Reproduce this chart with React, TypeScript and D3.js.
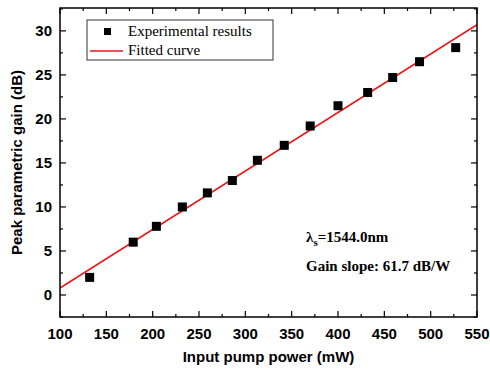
import React from 'react';
import * as d3 from 'd3';

// measured pump power (mW) and peak gain (dB)
const pumpPower = [132, 179, 204, 232, 259, 286, 313, 342, 370, 400, 432, 459, 488, 527];
const peakGain = [2.0, 6.0, 7.8, 10.0, 11.6, 13.0, 15.3, 17.0, 19.2, 21.5, 23.0, 24.7, 26.5, 28.1];
// linear fit end points
const fitX = [100, 550];
const fitY = [0.8, 30.7];

const xTicks = [100, 150, 200, 250, 300, 350, 400, 450, 500, 550];
const yTicks = [0, 5, 10, 15, 20, 25, 30];

const width = 490;
const height = 372;
const margin = { top: 8, right: 13, bottom: 55, left: 60 };

export default function App() {
  const innerW = width - margin.left - margin.right;
  const innerH = height - margin.top - margin.bottom;

  const x = d3.scaleLinear().domain([100, 550]).range([0, innerW]);
  const y = d3.scaleLinear().domain([-2.5, 32.6]).range([innerH, 0]);

  const line = d3.line<number>()
    .x(d => x(fitX[d]))
    .y(d => y(fitY[d]));

  const xMinor = d3.range(125, 550, 50);
  const yMinor = d3.range(-2.5, 32.6, 5);

  const sans = 'Liberation Sans, Arial, sans-serif';
  const serif = 'Liberation Serif, Times New Roman, serif';

  return (
    <svg width={width} height={height} style={{ position: 'absolute', left: 0, top: 0, background: '#fff' }}>
      <g transform={`translate(${margin.left},${margin.top})`}>
        {/* fitted line, clipped to frame */}
        <clipPath id="plot"><rect width={innerW} height={innerH} /></clipPath>
        <path d={line([0, 1]) || ''} stroke="#e8191c" strokeWidth={1.6} fill="none" clipPath="url(#plot)" />

        {pumpPower.map((p, i) => (
          <rect key={i} x={x(p) - 4.5} y={y(peakGain[i]) - 4.5} width={9} height={9} fill="#000" />
        ))}

        {/* frame */}
        <rect width={innerW} height={innerH} fill="none" stroke="#000" strokeWidth={1.5} />

        {/* x ticks bottom & top */}
        {xTicks.map(t => (
          <g key={'x' + t}>
            <line x1={x(t)} x2={x(t)} y1={innerH} y2={innerH - 6} stroke="#000" strokeWidth={1.2} />
            <line x1={x(t)} x2={x(t)} y1={0} y2={6} stroke="#000" strokeWidth={1.2} />
            <text x={x(t)} y={innerH + 22} textAnchor="middle" fontFamily={sans} fontWeight="bold" fontSize={15}>{t}</text>
          </g>
        ))}
        {xMinor.map(t => (
          <g key={'xm' + t}>
            <line x1={x(t)} x2={x(t)} y1={innerH} y2={innerH - 3} stroke="#000" strokeWidth={1.2} />
            <line x1={x(t)} x2={x(t)} y1={0} y2={3} stroke="#000" strokeWidth={1.2} />
          </g>
        ))}

        {/* y ticks left & right */}
        {yTicks.map(t => (
          <g key={'y' + t}>
            <line x1={0} x2={6} y1={y(t)} y2={y(t)} stroke="#000" strokeWidth={1.2} />
            <line x1={innerW} x2={innerW - 6} y1={y(t)} y2={y(t)} stroke="#000" strokeWidth={1.2} />
            <text x={-8} y={y(t)} dy="0.35em" textAnchor="end" fontFamily={sans} fontWeight="bold" fontSize={15}>{t}</text>
          </g>
        ))}
        {yMinor.map(t => (
          <g key={'ym' + t}>
            <line x1={0} x2={3} y1={y(t)} y2={y(t)} stroke="#000" strokeWidth={1.2} />
            <line x1={innerW} x2={innerW - 3} y1={y(t)} y2={y(t)} stroke="#000" strokeWidth={1.2} />
          </g>
        ))}

        {/* legend */}
        <g transform="translate(27,12)">
          <rect width={186} height={40} fill="#fff" stroke="#333" strokeWidth={1} />
          <rect x={17} y={8} width={7} height={7} fill="#000" />
          <text x={41} y={16} fontFamily={serif} fontSize={15}>Experimental results</text>
          <line x1={3} x2={36} y1={31} y2={31} stroke="#e8191c" strokeWidth={1.6} />
          <text x={41} y={35} fontFamily={serif} fontSize={15}>Fitted curve</text>
        </g>

        {/* annotation */}
        <text x={246} y={234} fontFamily={serif} fontWeight="bold" fontSize={15}>
          λ<tspan dy={4} fontSize={11}>s</tspan><tspan dy={-4}>=1544.0nm</tspan>
        </text>
        <text x={246} y={263} fontFamily={serif} fontWeight="bold" fontSize={15}>Gain slope: 61.7 dB/W</text>

        {/* axis titles */}
        <text x={innerW / 2} y={innerH + 45} textAnchor="middle" fontFamily={sans} fontWeight="bold" fontSize={15}>Input pump power (mW)</text>
        <text transform={`translate(${-38},${innerH / 2}) rotate(-90)`} textAnchor="middle" fontFamily={sans} fontWeight="bold" fontSize={15}>Peak parametric gain (dB)</text>
      </g>
    </svg>
  );
}
